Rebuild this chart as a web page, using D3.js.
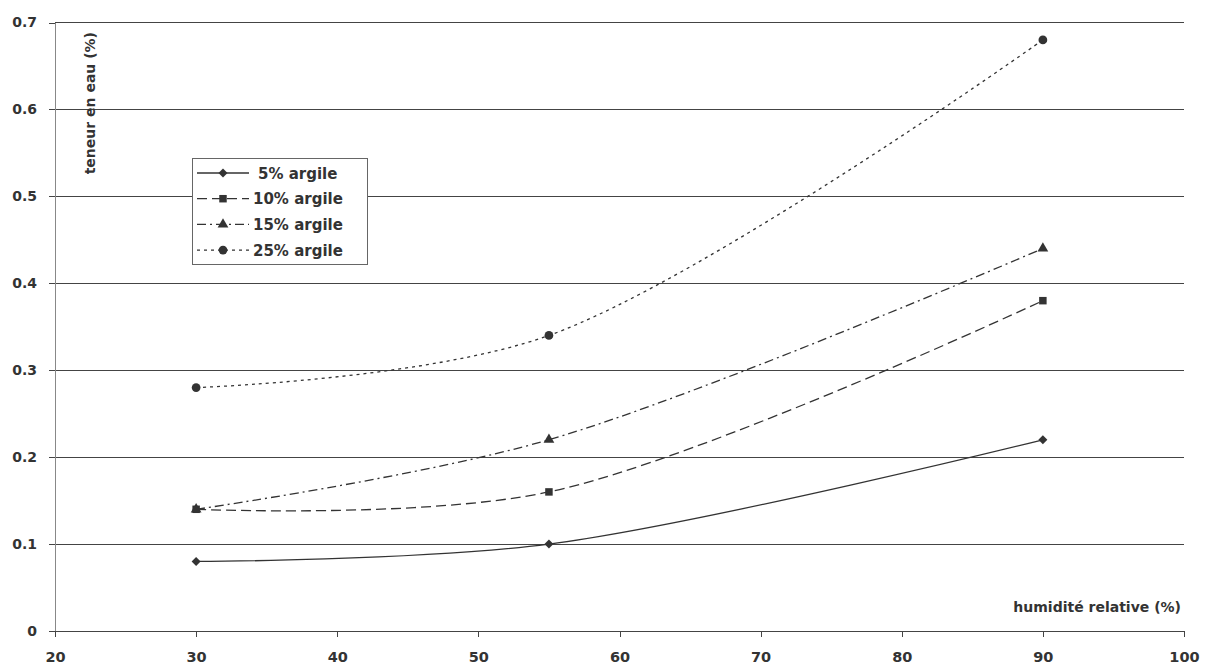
<!DOCTYPE html>
<html><head><meta charset="utf-8">
<script src="https://cdn.jsdelivr.net/npm/d3@7"></script>
<style>body{margin:0;background:#fff}svg{display:block}text{font-family:"DejaVu Sans",Arial,sans-serif;font-weight:bold;fill:#333}</style>
</head><body>
<script>
const humidite = [30, 55, 90];
const argile5 = [0.08, 0.10, 0.22];
const argile10 = [0.14, 0.16, 0.38];
const argile15 = [0.14, 0.22, 0.44];
const argile25 = [0.28, 0.34, 0.68];
const seriesNames = ["5% argile", "10% argile", "15% argile", "25% argile"];
const xTicks = [20, 30, 40, 50, 60, 70, 80, 90, 100];
const yTicks = [0, 0.1, 0.2, 0.3, 0.4, 0.5, 0.6, 0.7];

const W = 1208, H = 666;
const svg = d3.select("body").append("svg").attr("width", W).attr("height", H);
const x = d3.scaleLinear().domain([20, 100]).range([55, 1184]);
const y = d3.scaleLinear().domain([0, 0.7]).range([631, 22.5]);

// gridlines
svg.append("g").selectAll("line").data(yTicks.filter(d => d > 0)).join("line")
  .attr("x1", x(20)).attr("x2", x(100)).attr("y1", d => y(d)).attr("y2", d => y(d))
  .attr("stroke", "#444").attr("stroke-width", 1).attr("shape-rendering", "crispEdges");

// axes
const yAxis = d3.axisLeft(y).tickValues(yTicks).tickSize(6).tickPadding(12)
  .tickFormat(d => d === 0 ? "0" : d3.format(".1f")(d));
const gy = svg.append("g").attr("transform", `translate(${x(20)},0)`).call(yAxis);
gy.attr("font-family", null).attr("font-size", null);
gy.select(".domain").attr("stroke", "#888").attr("shape-rendering", "crispEdges");
gy.selectAll(".tick line").attr("stroke", "#444").attr("shape-rendering", "crispEdges");
gy.selectAll("text").attr("font-size", 14).attr("fill", "#333");

const xAxis = d3.axisBottom(x).tickValues(xTicks).tickSize(6).tickSizeOuter(6).tickPadding(15);
const gx = svg.append("g").attr("transform", `translate(0,${y(0)})`).call(xAxis);
gx.attr("font-family", null).attr("font-size", null);
gx.select(".domain").attr("stroke", "#444").attr("shape-rendering", "crispEdges");
gx.selectAll(".tick line").attr("stroke", "#444").attr("shape-rendering", "crispEdges");
gx.selectAll("text").attr("font-size", 14.5).attr("fill", "#333");

// axis titles
svg.append("text").attr("x", 1181).attr("y", 612).attr("text-anchor", "end")
  .attr("font-size", 14).text("humidité relative (%)");
svg.append("text").attr("transform", "translate(95,32) rotate(-90)").attr("text-anchor", "end")
  .attr("font-size", 14).text("teneur en eau (%)");

const allSeries = [argile5, argile10, argile15, argile25];
const dashes = [null, "10,5", "9,4,2,4", "3,4"];
const markers = [d3.symbolSquare, d3.symbolSquare, d3.symbolTriangle, d3.symbolCircle];
const mrot = [45, 0, 0, 0];
const msize = [40, 56, 50, 60];
const line = d3.line().x(d => x(d[0])).y(d => y(d[1])).curve(d3.curveCatmullRom.alpha(0.5));

allSeries.forEach((vals, i) => {
  const pts = humidite.map((h, j) => [h, vals[j]]);
  svg.append("path").attr("d", line(pts)).attr("fill", "none").attr("stroke", "#333")
    .attr("stroke-width", 1.3).attr("stroke-dasharray", dashes[i]);
  svg.append("g").selectAll("path").data(pts).join("path")
    .attr("transform", d => `translate(${x(d[0])},${y(d[1])}) rotate(${mrot[i]})`)
    .attr("d", d3.symbol().type(markers[i]).size(msize[i])).attr("fill", "#333");
});

// legend
const lg = svg.append("g");
lg.append("rect").attr("x", 192.5).attr("y", 158.5).attr("width", 175).attr("height", 106)
  .attr("fill", "#fff").attr("stroke", "#666").attr("stroke-width", 1);
seriesNames.forEach((name, i) => {
  const cy = 173 + i * 25.7;
  lg.append("line").attr("x1", 197).attr("x2", 249).attr("y1", cy).attr("y2", cy)
    .attr("stroke", "#333").attr("stroke-width", 1.3).attr("stroke-dasharray", dashes[i]);
  lg.append("path").attr("transform", `translate(223,${cy}) rotate(${mrot[i]})`)
    .attr("d", d3.symbol().type(markers[i]).size(msize[i])).attr("fill", "#333");
  lg.append("text").attr("x", i === 0 ? 258 : 253).attr("y", cy + 5.5).attr("font-size", 15)
    .text(name);
});
</script>
</body></html>
